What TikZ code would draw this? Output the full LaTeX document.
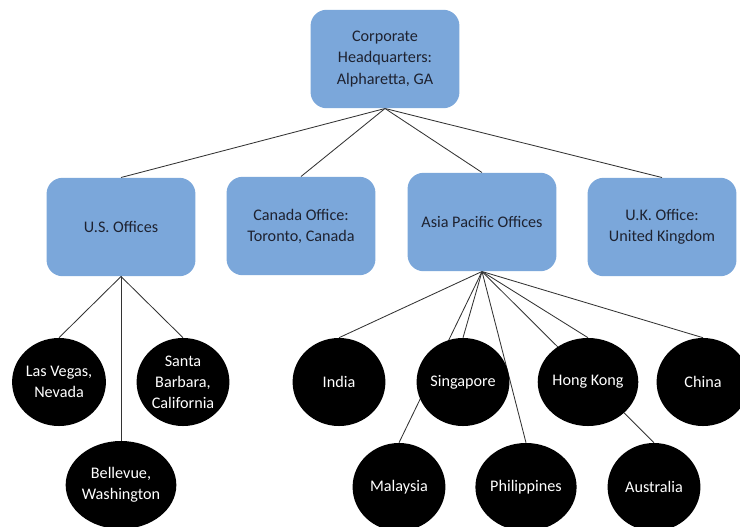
\documentclass[tikz,border=0pt]{standalone}
\usepackage{fontspec}
\setmainfont{Carlito}
\usetikzlibrary{shapes.geometric,backgrounds}
\definecolor{officeblue}{HTML}{7BA7DA}
\definecolor{labelgray}{HTML}{1E2230}

\begin{document}
\begin{tikzpicture}
  [x=0.025cm, y=-0.025cm,
    font=\fontsize{11.5}{15}\selectfont,
    L1Node/.style={rectangle, rounded corners=4mm, fill=officeblue, text=labelgray, align=center, minimum width=3.72cm, minimum height=2.46cm},
    L2Node/.style={ellipse, fill=black, text=white, align=center, inner sep=0pt, minimum width=2.32cm, minimum height=2.2cm},
    Link/.style={draw=black!80, line width=0.6pt}]
    \useasboundingbox (0,0) rectangle (740,526);
    \node [L1Node] (HQ) at (385,59) {Corporate\\Headquarters:\\Alpharetta, GA};
    \node [L1Node] (US) at (121,227) {U.S. Offices};
    \node [L1Node] (Canada) at (301,226) {Canada Office:\\Toronto, Canada};
    \node [L1Node] (Asia) at (482,222) {Asia Pacific Offices};
    \node [L1Node] (UK) at (662,227) {U.K. Office:\\United Kingdom};
    \node [L2Node] (LasVegas) at (59,382) {Las Vegas,\\Nevada};
    \node [L2Node] (SantaBarbara) at (183,382) {Santa\\Barbara,\\California};
    \node [L2Node] (Bellevue) at (121,485) {Bellevue,\\Washington};
    \node [L2Node] (India) at (339,382) {India};
    \node [L2Node] (Singapore) at (463,382) {Singapore};
    \node [L2Node] (HongKong) at (588,382) {Hong Kong};
    \node [L2Node] (China) at (703,382) {China};
    \node [L2Node] (Malaysia) at (399,487) {Malaysia};
    \node [L2Node] (Philippines) at (526,487) {Philippines};
    \node [L2Node] (Australia) at (654,487) {Australia};
    \begin{scope}[on background layer]
      \foreach \office in {US,Canada,Asia,UK}
        \draw [Link] (HQ.south) -- (\office.north);
      \foreach \city in {LasVegas,SantaBarbara,Bellevue}
        \draw [Link] (US.south) -- (\city.north);
      \foreach \city in {India,Singapore,HongKong,China,Malaysia,Philippines,Australia}
        \draw [Link] (Asia.south) -- (\city.north);
    \end{scope}
\end{tikzpicture}
\end{document}
